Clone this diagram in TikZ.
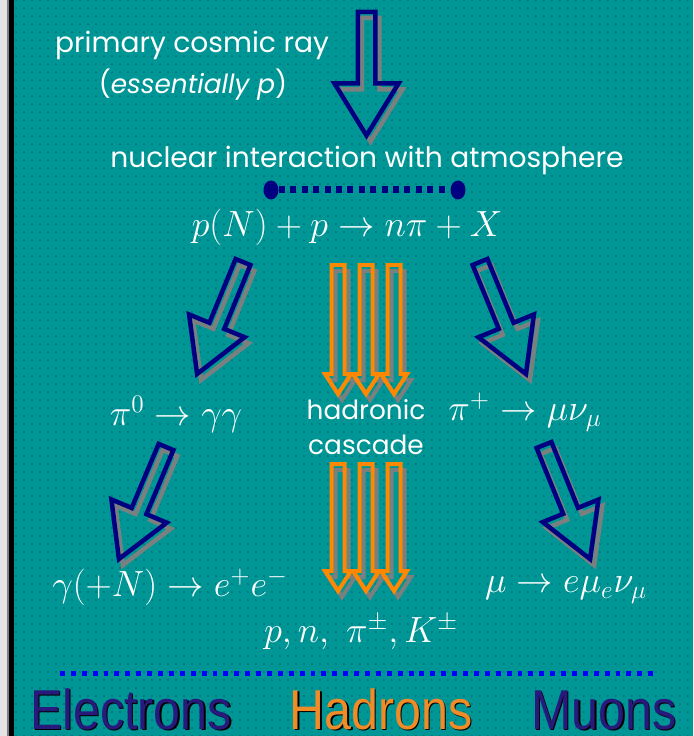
\documentclass[tikz,border=0pt]{standalone}
\usepackage{fontspec}
\usepackage{amsmath}
\usepackage{tikz}
\usetikzlibrary{
  calc,
  patterns.meta,
  shapes.geometric
}
\newfontfamily\gothic{Poppins}
\newfontfamily\labelfont{Liberation Sans}
\usepackage{xcolor}
\definecolor{bgteal}{RGB}{0, 150, 150}
\definecolor{dotteal}{RGB}{0, 95, 105}
\definecolor{edgegray}{RGB}{228, 228, 228}
\definecolor{arrnavy}{RGB}{0, 0, 128}
\definecolor{arrorange}{RGB}{255, 136, 0}
\definecolor{shadowgray}{RGB}{120, 128, 128}
\definecolor{labnavy}{RGB}{40, 25, 125}
\definecolor{laborange}{RGB}{240, 140, 40}
\definecolor{sepblue}{RGB}{0, 0, 255}
\tikzset{
  % Oq yozuvlar
  caption/.style     = {text=white, font=\gothic\fontsize{16}{19}\selectfont, inner sep=0pt},
  smallcap/.style    = {caption, font=\gothic\fontsize{15}{18}\selectfont},
  formula/.style     = {text=white, font=\fontsize{22}{26}\selectfont, inner sep=0pt},
  % O'qlar
  navyarrow/.style   = {draw=arrnavy, line width=0.09cm, line join=miter},
  orangearrow/.style = {draw=arrorange, line width=0.08cm, line join=miter},
  % Nuqtali chiziqlar
  enddot/.style      = {ellipse, fill=arrnavy, minimum width=0.3cm, minimum height=0.38cm, inner sep=0pt},
  vtxline/.style     = {draw=arrnavy, line width=0.14cm, dash pattern=on 3.4pt off 3.1pt},
  sepline/.style     = {draw=sepblue, line width=0.1cm, dash pattern=on 2.8pt off 3.4pt},
  % Pastki etiketlar
  bottomlab/.style   = {font=\labelfont\fontsize{32}{37}\selectfont, anchor=base, xscale=0.86, inner sep=0pt},
}
% o'q konturi: uzunlik, shaft yarim eni, uch yarim eni, uch uzunligi
\newcommand{\arrowpath}[4]{(0,#2) -- ({#1-#4},#2) -- ({#1-#4},#3) -- (#1,0)
  -- ({#1-#4},-#3) -- ({#1-#4},-#2) -- (0,-#2) -- cycle}
\newcommand{\hollowarrow}[7]{%
  \draw[#7, draw=shadowgray, shift={($(#1)+(4,6)$)}, rotate=#2] \arrowpath{#3}{#4}{#5}{#6};
  \draw[#7, shift={(#1)}, rotate=#2] \arrowpath{#3}{#4}{#5}{#6};
}

\begin{document}
\begin{tikzpicture}[x=0.02cm, y=-0.02cm]
  \useasboundingbox (0,0) rectangle (693,736);
  % Fon
  \fill[edgegray] (0,0) rectangle (7,736);
  \fill[gray] (7,0) rectangle (9,736);
  \fill[black] (9,0) rectangle (14,736);
  \fill[bgteal] (14,0) rectangle (693,736);
  \fill[pattern={Dots[distance=0.16cm, radius=0.016cm]}, pattern color=dotteal]
    (14,0) rectangle (693,736);

  % Birlamchi nur
  \coordinate (cosmic) at (366.5,12);
  \hollowarrow{cosmic}{-90}{123.5}{8.75}{32}{52}{navyarrow}
  \node[caption] (primary) at (192,45) {primary cosmic ray};
  \node[smallcap] (essentially) at (193,85) {(\textit{essentially p})};
  \node[caption] (nuclear) at (367,160) {nuclear interaction with atmosphere};
  \node[enddot] (vtxL) at (271,190) {};
  \node[enddot] (vtxR) at (458,190) {};
  \draw[vtxline] (vtxL) -- (vtxR);
  \node[formula] (collision) at (347,227) {$p(N)+p\rightarrow n\pi+X$};

  % Diagonal o'qlar
  \coordinate (tailL1) at (243,262);
  \coordinate (tailR1) at (480,262);
  \coordinate (tailL2) at (166,447);
  \coordinate (tailR2) at (544,445);
  \hollowarrow{tailL1}{-112.3}{121}{8}{30}{52}{navyarrow}
  \hollowarrow{tailR1}{-67.7}{121}{8}{30}{52}{navyarrow}
  \hollowarrow{tailL2}{-112.8}{121.5}{8}{30}{52}{navyarrow}
  \hollowarrow{tailR2}{-68.0}{123}{8}{30}{52}{navyarrow}

  % Adron kaskadi
  \foreach \cx in {338,366,394} {
    \coordinate (casc-\cx) at (\cx,265);
    \coordinate (cascb-\cx) at (\cx,464);
    \hollowarrow{casc-\cx}{-90}{129}{6.5}{13}{20}{orangearrow}
    \hollowarrow{cascb-\cx}{-90}{127}{6.5}{13}{20}{orangearrow}
  }

  % Formulalar
  \node[formula] (pizero) at (176,414) {$\pi^0\rightarrow\gamma\gamma$};
  \node[smallcap] (hadronic) at (366,410) {hadronic};
  \node[smallcap] (cascade) at (366,445) {cascade};
  \node[formula] (piplus) at (525,412) {$\pi^+\rightarrow\mu\nu_\mu$};
  \node[formula] (gammaconv) at (170,587) {$\gamma(+N)\rightarrow e^+e^-$};
  \node[formula] (mudecay) at (566,590) {$\mu\rightarrow e\mu_e\nu_\mu$};
  \node[formula, font=\fontsize{21}{25}\selectfont] (products) at (361,632) {$p,n,\ \pi^\pm,K^\pm$};

  % Ajratuvchi chiziq
  \coordinate (sepL) at (60,673);
  \coordinate (sepR) at (656,673);
  \draw[sepline] (sepL) -- (sepR);

  % Etiketlar
  \foreach \name/\cx/\clr/\txt in {electrons/131/labnavy/Electrons,
                                   hadrons/381/laborange/Hadrons,
                                   muons/604/labnavy/Muons} {
    \node[bottomlab, text=black] (\name-shade) at (\cx+1.5,730.5) {\txt};
    \node[bottomlab, text=\clr] (\name) at (\cx,729) {\txt};
  }
\end{tikzpicture}
\end{document}
